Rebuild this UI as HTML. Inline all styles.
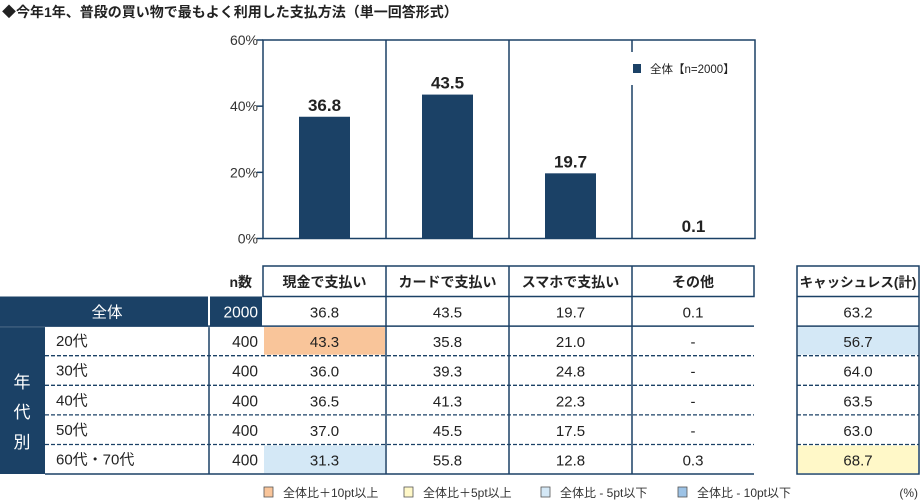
<!DOCTYPE html>
<html><head><meta charset="utf-8"><style>
body{margin:0;background:#fff;}
svg{display:block;font-family:"Liberation Sans","Noto Sans CJK JP",sans-serif;}
</style></head><body>
<svg id="s" width="920" height="501" viewBox="0 0 920 501">
<text x="2" y="17" font-size="14" font-weight="bold" fill="#222">◆今年1年、普段の買い物で最もよく利用した支払方法（単一回答形式）</text>
</svg>
<script>
const categories=["現金で支払い","カードで支払い","スマホで支払い","その他"];
const overallValues=[36.8,43.5,19.7,0.1];
const tickLabels=["0%","20%","40%","60%"];
const tickValues=[0,20,40,60];
const rowLabels=["20代","30代","40代","50代","60代・70代"];
const rowN=[400,400,400,400,400];
const cashValues=["43.3","36.0","36.5","37.0","31.3"];
const cardValues=["35.8","39.3","41.3","45.5","55.8"];
const phoneValues=["21.0","24.8","22.3","17.5","12.8"];
const otherValues=["-","-","-","-","0.3"];
const cashlessValues=["56.7","64.0","63.5","63.0","68.7"];
const overallRow=["36.8","43.5","19.7","0.1"];
const overallCashless="63.2";

const NS="http://www.w3.org/2000/svg";
const svg=document.getElementById('s');
const NAVY="#1b4166";
function el(t,a,txt){const e=document.createElementNS(NS,t);for(const k in a)e.setAttribute(k,a[k]);if(txt!==undefined)e.textContent=txt;svg.appendChild(e);return e;}
const x0=263,colW=123,yTop=40,yBot=238.5,yMax=60;
const y=v=>yBot-(yBot-yTop)*v/yMax;
// plot box
let e=el('rect',{x:x0,y:yTop,width:colW*4,height:yBot-yTop,fill:'none',stroke:NAVY,'stroke-width':1.5});


for(let i=1;i<4;i++){
  const xx=x0+colW*i;
  if(i===3){
    e=el('line',{x1:xx,y1:yTop,x2:xx,y2:52,stroke:NAVY,'stroke-width':1.5});
    
    e=el('line',{x1:xx,y1:85,x2:xx,y2:yBot,stroke:NAVY,'stroke-width':1.5});
  } else e=el('line',{x1:xx,y1:yTop,x2:xx,y2:yBot,stroke:NAVY,'stroke-width':1.5});
  
  
}
tickValues.forEach((v,i)=>{
  e=el('line',{x1:x0-6,y1:y(v),x2:x0,y2:y(v),stroke:NAVY,'stroke-width':1.5});
  
  
  e=el('text',{x:x0-5,y:y(v)+5,'font-size':14,fill:'#333','text-anchor':'end'},tickLabels[i]);
  
  
});
overallValues.forEach((v,i)=>{
  const cx=x0+colW*(i+0.5);
  e=el('rect',{x:cx-25.5,y:y(v),width:51,height:yBot-y(v),fill:NAVY});
  
  
  e=el('text',{x:cx,y:y(v)-6,'font-size':17,'font-weight':'bold',fill:'#222','text-anchor':'middle'},v.toFixed(1));
  
  
});
e=el('rect',{x:633,y:64,width:8,height:9,fill:NAVY});


e=el('text',{x:650,y:73,'font-size':11.5,fill:'#222'},'全体【n=2000】');



// table
const colX=[263,386,509,632,754];
const cl=[797,919];
const hTop=266,rowH=29.6,r0=296.5;
// header
e=el('text',{x:252,y:287,'font-size':14,'font-weight':'bold',fill:'#222','text-anchor':'end'},'n数');

e=el('rect',{x:263,y:hTop,width:491,height:r0-hTop,fill:'none',stroke:NAVY,'stroke-width':1.5});

categories.forEach((c,i)=>{
  if(i>0){e=el('line',{x1:colX[i],y1:hTop,x2:colX[i],y2:474,stroke:NAVY,'stroke-width':1.5});
  }
  e=el('text',{x:(colX[i]+colX[i+1])/2,y:287,'font-size':14,'font-weight':'bold',fill:'#222','text-anchor':'middle'},c);
  
});
e=el('rect',{x:cl[0],y:hTop,width:cl[1]-cl[0],height:474-hTop,fill:'none',stroke:NAVY,'stroke-width':1.5});

e=el('line',{x1:cl[0],y1:r0,x2:cl[1],y2:r0,stroke:NAVY,'stroke-width':1.5});

e=el('text',{x:858,y:287,'font-size':13.5,'font-weight':'bold',fill:'#222','text-anchor':'middle'},'キャッシュレス(計)');

// overall row
e=el('rect',{x:0,y:r0,width:208,height:rowH,fill:NAVY});

e=el('rect',{x:210,y:r0,width:52,height:rowH,fill:NAVY});

e=el('text',{x:107,y:r0+21,'font-size':15.5,fill:'#fff','text-anchor':'middle'},'全体');

e=el('text',{x:258,y:r0+21,'font-size':15.5,fill:'#fff','text-anchor':'end'},'2000');

overallRow.forEach((v,i)=>{
  e=el('text',{x:(colX[i]+colX[i+1])/2,y:r0+21,'font-size':15,fill:'#222','text-anchor':'middle'},v);
  
});
e=el('text',{x:858,y:r0+21,'font-size':15,fill:'#222','text-anchor':'middle'},overallCashless);

// age block
const a0=r0+rowH+1;
e=el('rect',{x:0,y:a0,width:45,height:474-a0,fill:NAVY});

['年','代','別'].forEach((ch,i)=>{
  e=el('text',{x:22,y:388+i*30,'font-size':17,fill:'#fff','text-anchor':'middle'},ch);
  
});
e=el('line',{x1:0,y1:r0+rowH,x2:754,y2:r0+rowH,stroke:NAVY,'stroke-width':1.5});

e=el('line',{x1:cl[0],y1:r0+rowH,x2:cl[1],y2:r0+rowH,stroke:NAVY,'stroke-width':1.5});

e=el('line',{x1:209,y1:a0,x2:209,y2:474,stroke:NAVY,'stroke-width':1.5});

const hi={"0-0":"#f9c59a","4-0":"#d4e8f6"};
const hiCl={0:"#d4e8f6",4:"#fff8c8"};
const cols=[cashValues,cardValues,phoneValues,otherValues];
rowLabels.forEach((lab,r)=>{
  const ry=r0+rowH*(r+1);
  cols.forEach((arr,c)=>{
    const k=r+"-"+c;
    if(hi[k]){e=el('rect',{x:colX[c]+1,y:ry+1,width:colW-2,height:rowH-2,fill:hi[k]});
    }
    e=el('text',{x:(colX[c]+colX[c+1])/2,y:ry+21,'font-size':15,fill:'#222','text-anchor':'middle'},arr[r]);
    
  });
  if(hiCl[r]!==undefined){e=el('rect',{x:cl[0]+1,y:ry+1,width:cl[1]-cl[0]-2,height:rowH-2,fill:hiCl[r]});
  }
  e=el('text',{x:858,y:ry+21,'font-size':15,fill:'#222','text-anchor':'middle'},cashlessValues[r]);
  
  e=el('text',{x:56,y:ry+20,'font-size':15,fill:'#222'},lab);
  
  e=el('text',{x:258,y:ry+21,'font-size':15.5,fill:'#222','text-anchor':'end'},String(rowN[r]));
  
  if(r>0){
    e=el('line',{x1:45,y1:ry,x2:754,y2:ry,stroke:NAVY,'stroke-width':1.3,'stroke-dasharray':'4,2'});
    
    e=el('line',{x1:cl[0],y1:ry,x2:cl[1],y2:ry,stroke:NAVY,'stroke-width':1.3,'stroke-dasharray':'4,2'});
    
  }
});
e=el('line',{x1:45,y1:474,x2:754,y2:474,stroke:NAVY,'stroke-width':1.5});

// bottom legend
const leg=[[264,"#f9c59a","全体比＋10pt以上"],[404,"#fff8c8","全体比＋5pt以上"],[541,"#d4e8f6","全体比 - 5pt以下"],[678,"#9dc3e6","全体比 - 10pt以下"]];
leg.forEach(l=>{
  e=el('rect',{x:l[0],y:487,width:9,height:10,fill:l[1],stroke:'#555','stroke-width':0.8});
  
  e=el('text',{x:l[0]+19,y:497,'font-size':12,fill:'#333'},l[2]);
  
});
e=el('text',{x:918,y:497,'font-size':12,fill:'#333','text-anchor':'end'},'(%)');

</script>
</body></html>
